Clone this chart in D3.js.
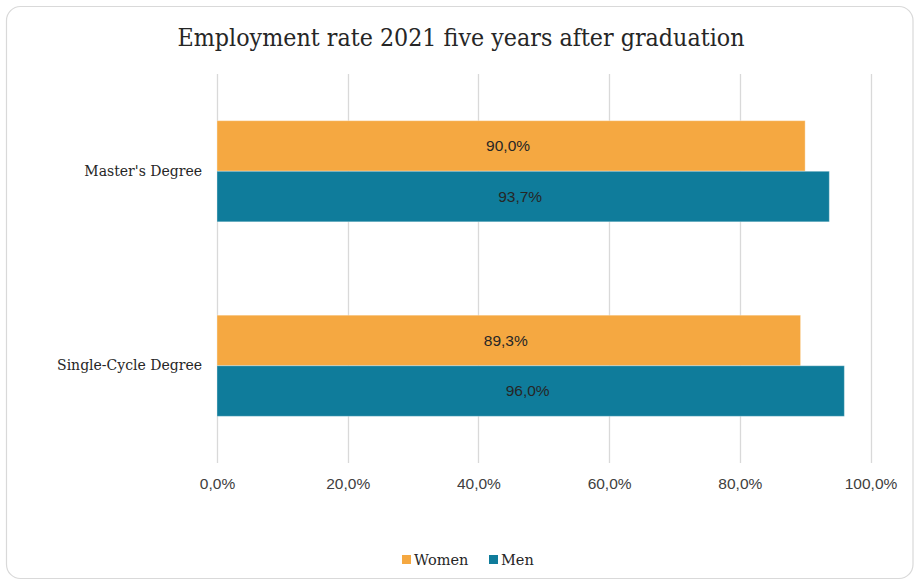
<!DOCTYPE html>
<html>
<head>
<meta charset="utf-8">
<script src="https://cdn.jsdelivr.net/npm/d3@7/dist/d3.min.js"></script>
<style>
  html, body { margin: 0; padding: 0; background: #ffffff; }
  svg { display: block; }
</style>
</head>
<body>
<svg id="chart" width="914" height="582"></svg>
<script>
// Employment rate five years after graduation, by degree type and gender
const categories = ["Master's Degree", "Single-Cycle Degree"];
const seriesNames = ["Women", "Men"];
const women = [90.0, 89.3];
const men = [93.7, 96.0];
const tickValues = [0, 20, 40, 60, 80, 100];
const titleText = "Employment rate 2021 five years after graduation";

const colors = { Women: "#F5A841", Men: "#0F7C9B" };
const values = { Women: women, Men: men };

const svg = d3.select("#chart");
const W = 914, H = 582;

// European number format: comma decimal separator
const locale = d3.formatLocale({ decimal: ",", thousands: ".", grouping: [3], currency: ["", "€"] });
const pct = v => locale.format(".1f")(v) + "%";

const serif = "'DejaVu Serif', 'Liberation Serif', serif";
const sans = "'Liberation Sans', Arial, sans-serif";

// Chart frame
svg.append("rect")
  .attr("x", 6.5).attr("y", 6.5)
  .attr("width", W - 7.5).attr("height", H - 10)
  .attr("rx", 14).attr("ry", 14)
  .attr("fill", "#ffffff")
  .attr("stroke", "#d9d9d9").attr("stroke-width", 1.2);

// Title
svg.append("text")
  .attr("x", 461).attr("y", 46)
  .attr("text-anchor", "middle")
  .attr("font-family", serif)
  .attr("font-size", 25)
  .attr("textLength", 567)
  .attr("lengthAdjust", "spacingAndGlyphs")
  .attr("fill", "#262626")
  .text(titleText);

const plot = { left: 217, right: 870.5, top: 74, bottom: 463 };

const x = d3.scaleLinear().domain([0, 100]).range([plot.left, plot.right]);
const y0 = d3.scaleBand().domain(categories)
  .range([plot.top, plot.bottom])
  .paddingInner(0.48).paddingOuter(0.24);
const y1 = d3.scaleBand().domain(seriesNames)
  .range([0, y0.bandwidth()]).padding(0);

// Vertical gridlines
svg.append("g")
  .selectAll("line")
  .data(tickValues)
  .join("line")
  .attr("x1", d => Math.round(x(d)) + 0.5).attr("x2", d => Math.round(x(d)) + 0.5)
  .attr("y1", plot.top).attr("y2", plot.bottom)
  .attr("stroke", "#d9d9d9").attr("stroke-width", 1.3);

// X axis tick labels
const xAxis = d3.axisBottom(x).tickValues(tickValues).tickSize(0).tickPadding(0)
  .tickFormat(d => pct(d));
const gx = svg.append("g")
  .attr("transform", `translate(0,${plot.bottom + 26})`)
  .call(xAxis);
gx.select(".domain").remove();
gx.selectAll("text")
  .attr("font-family", sans)
  .attr("font-size", 15.5)
  .attr("fill", "#404040")
  .attr("dy", "0");

// Y axis category labels
const yAxis = d3.axisLeft(y0).tickSize(0).tickPadding(15);
const gy = svg.append("g")
  .attr("transform", `translate(${plot.left},0)`)
  .call(yAxis);
gy.select(".domain").remove();
gy.selectAll("text")
  .attr("font-family", serif)
  .attr("font-size", 14)
  .attr("fill", "#262626");

// Bars
const groups = svg.append("g")
  .selectAll("g")
  .data(categories)
  .join("g")
  .attr("transform", d => `translate(0,${y0(d)})`);

const cells = groups.selectAll("g")
  .data((c, i) => seriesNames.map(s => ({ series: s, value: values[s][i] })))
  .join("g");

cells.append("rect")
  .attr("x", x(0))
  .attr("y", d => y1(d.series))
  .attr("width", d => x(d.value) - x(0))
  .attr("height", y1.bandwidth())
  .attr("fill", d => colors[d.series])
  .attr("stroke", "rgba(255,255,255,0.35)")
  .attr("stroke-width", 1);

// Data labels
cells.append("text")
  .attr("x", d => (x(0) + x(d.value)) / 2 - 3)
  .attr("y", d => y1(d.series) + y1.bandwidth() / 2)
  .attr("dy", "0.35em")
  .attr("text-anchor", "middle")
  .attr("font-family", sans)
  .attr("font-size", 15.5)
  .attr("fill", "#262626")
  .text(d => pct(d.value));

// Legend
const legend = svg.append("g").attr("transform", "translate(402,560)");
const legendItems = [
  { name: "Women", x: 0 },
  { name: "Men", x: 87 }
];
const li = legend.selectAll("g").data(legendItems).join("g")
  .attr("transform", d => `translate(${d.x},0)`);
li.append("rect")
  .attr("x", 0).attr("y", -5)
  .attr("width", 9).attr("height", 9)
  .attr("fill", d => colors[d.name]);
li.append("text")
  .attr("x", 12).attr("y", 0)
  .attr("dy", "0.35em")
  .attr("font-family", serif)
  .attr("font-size", 14.5)
  .attr("fill", "#262626")
  .text(d => d.name);
</script>
</body>
</html>
